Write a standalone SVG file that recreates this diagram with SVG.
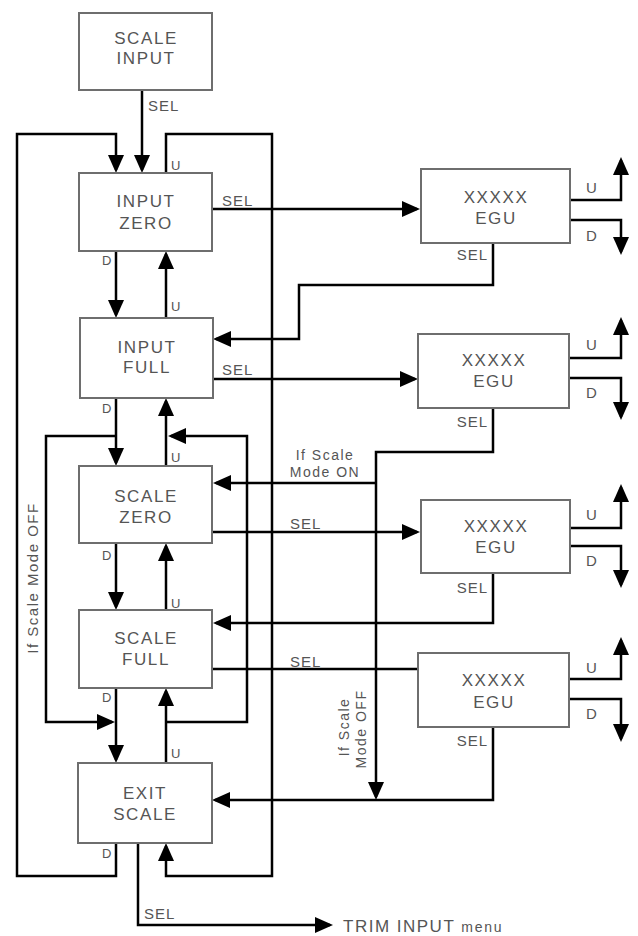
<svg xmlns="http://www.w3.org/2000/svg" width="638" height="936" viewBox="0 0 638 936">
<style>
.box{fill:#fff;stroke:#6e6e6e;stroke-width:2}
.bt{font-family:"Liberation Sans",Arial,sans-serif;font-size:17px;fill:#555;text-anchor:middle;letter-spacing:1.6px}
.sel{font-family:"Liberation Sans",Arial,sans-serif;font-size:15px;fill:#555;letter-spacing:1px}
.ud{font-family:"Liberation Sans",Arial,sans-serif;font-size:13px;fill:#555}
.eud{font-family:"Liberation Sans",Arial,sans-serif;font-size:15px;fill:#555}
.note{font-family:"Liberation Sans",Arial,sans-serif;font-size:14px;fill:#555;letter-spacing:1.5px;text-anchor:middle}
.ln{fill:none;stroke:#000;stroke-width:2.5}
.ar{fill:none;stroke:#000;stroke-width:2.5;marker-end:url(#ah)}
</style>
<defs>
<marker id="ah" markerUnits="userSpaceOnUse" markerWidth="18" markerHeight="16" refX="15" refY="8" orient="auto">
<path d="M0,0 L18,8 L0,16 Z" fill="#000"/>
</marker>
</defs>
<rect width="638" height="936" fill="#fff"/>

<g id="connectors">
<!-- SCALE INPUT -> INPUT ZERO -->
<path class="ar" d="M142,90 V170"/>
<!-- outer left loop: EXIT D -> INPUT ZERO -->
<path class="ar" d="M116,843 V876 H17 V134 H116 V170"/>
<!-- outer right loop: INPUT ZERO U -> EXIT SCALE -->
<path class="ar" d="M166,173 V134 H272 V876 H166 V846"/>
<!-- INPUT ZERO <-> INPUT FULL -->
<path class="ar" d="M116,251 V315"/>
<path class="ar" d="M166,318 V254"/>
<!-- INPUT ZERO SEL -> EGU1 -->
<path class="ar" d="M212,209 H417"/>
<!-- EGU1 U/D -->
<path class="ar" d="M570,200 H621 V160"/>
<path class="ar" d="M570,220 H621 V252"/>
<!-- EGU1 SEL -> INPUT FULL -->
<path class="ar" d="M493,243 V285 H299 V339 H216"/>
<!-- INPUT FULL SEL -> EGU2 -->
<path class="ar" d="M213,379 H415"/>
<!-- EGU2 U/D -->
<path class="ar" d="M569,358 H621 V320"/>
<path class="ar" d="M569,378 H621 V417"/>
<!-- EGU2 SEL -> scale mode branch -->
<path class="ar" d="M493,408 V452 H376 V797"/>
<path class="ar" d="M376,483 H216"/>
<!-- INPUT FULL <-> SCALE ZERO -->
<path class="ar" d="M116,398 V463"/>
<path class="ar" d="M166,466 V401"/>
<!-- inner left loop (scale mode off) -->
<path class="ar" d="M116,436 H46 V722 H112"/>
<!-- inner right loop -->
<path class="ar" d="M166,722 H247 V436 H171"/>
<!-- SCALE ZERO SEL -> EGU3 -->
<path class="ar" d="M212,532 H417"/>
<!-- EGU3 U/D -->
<path class="ar" d="M570,528 H621 V487"/>
<path class="ar" d="M570,546 H621 V585"/>
<!-- EGU3 SEL -> SCALE FULL -->
<path class="ar" d="M493,573 V623 H216"/>
<!-- SCALE ZERO <-> SCALE FULL -->
<path class="ar" d="M116,543 V607"/>
<path class="ar" d="M166,610 V546"/>
<!-- SCALE FULL SEL -> EGU4 -->
<path class="ln" d="M212,669 H418"/>
<!-- EGU4 U/D -->
<path class="ar" d="M569,679 H621 V640"/>
<path class="ar" d="M569,699 H621 V739"/>
<!-- EGU4 SEL -> EXIT SCALE -->
<path class="ar" d="M493,727 V800 H215"/>
<!-- SCALE FULL <-> EXIT SCALE -->
<path class="ar" d="M116,688 V760"/>
<path class="ar" d="M166,763 V691"/>
<!-- EXIT SCALE SEL -> TRIM INPUT -->
<path class="ar" d="M138,843 V925 H330"/>

<!-- connector labels -->
<text class="sel" x="148" y="111">SEL</text>
<text class="ud" x="171" y="170">U</text>
<text class="ud" x="102" y="265">D</text>
<text class="ud" x="171" y="311">U</text>
<text class="sel" x="222" y="206">SEL</text>
<text class="sel" x="222" y="375">SEL</text>
<text class="ud" x="102" y="413">D</text>
<text class="ud" x="171" y="462">U</text>
<text class="sel" x="290" y="529">SEL</text>
<text class="ud" x="102" y="560">D</text>
<text class="ud" x="171" y="608">U</text>
<text class="sel" x="290" y="667">SEL</text>
<text class="ud" x="102" y="702">D</text>
<text class="ud" x="171" y="758">U</text>
<text class="ud" x="102" y="858">D</text>
<text class="sel" x="144" y="919">SEL</text>

<text class="eud" x="586" y="193">U</text>
<text class="eud" x="586" y="241">D</text>
<text class="sel" x="488" y="260" text-anchor="end">SEL</text>
<text class="eud" x="586" y="350">U</text>
<text class="eud" x="586" y="398">D</text>
<text class="sel" x="488" y="427" text-anchor="end">SEL</text>
<text class="eud" x="586" y="520">U</text>
<text class="eud" x="586" y="566">D</text>
<text class="sel" x="488" y="593" text-anchor="end">SEL</text>
<text class="eud" x="586" y="673">U</text>
<text class="eud" x="586" y="719">D</text>
<text class="sel" x="488" y="746" text-anchor="end">SEL</text>

<text class="note" x="325" y="460">If Scale</text>
<text class="note" x="325" y="477">Mode ON</text>
<text class="note" transform="translate(38,578) rotate(-90)" style="font-size:15px">If Scale Mode OFF</text>
<text class="note" transform="translate(349,727) rotate(-90)">If Scale</text>
<text class="note" transform="translate(366,729) rotate(-90)">Mode OFF</text>

<text x="343" y="932" font-family="Liberation Sans, Arial, sans-serif" font-size="17" fill="#555" letter-spacing="1.5">TRIM INPUT <tspan font-size="14" letter-spacing="1.8">menu</tspan></text>
</g>

<g id="scale-input">
<rect class="box" x="79" y="13" width="133" height="77"/>
<text class="bt" x="146" y="44">SCALE</text>
<text class="bt" x="146" y="64">INPUT</text>
</g>
<g id="input-zero">
<rect class="box" x="79" y="173" width="133" height="78"/>
<text class="bt" x="146" y="207">INPUT</text>
<text class="bt" x="146" y="229">ZERO</text>
</g>
<g id="input-full">
<rect class="box" x="80" y="318" width="133" height="80"/>
<text class="bt" x="147" y="353">INPUT</text>
<text class="bt" x="147" y="373">FULL</text>
</g>
<g id="scale-zero">
<rect class="box" x="79" y="466" width="133" height="77"/>
<text class="bt" x="146" y="502">SCALE</text>
<text class="bt" x="146" y="523">ZERO</text>
</g>
<g id="scale-full">
<rect class="box" x="79" y="610" width="133" height="78"/>
<text class="bt" x="146" y="644">SCALE</text>
<text class="bt" x="146" y="665">FULL</text>
</g>
<g id="exit-scale">
<rect class="box" x="78" y="763" width="134" height="80"/>
<text class="bt" x="145" y="799">EXIT</text>
<text class="bt" x="145" y="820">SCALE</text>
</g>
<g id="egu-1">
<rect class="box" x="421" y="169" width="149" height="74"/>
<text class="bt" x="496" y="203">XXXXX</text>
<text class="bt" x="496" y="224">EGU</text>
</g>
<g id="egu-2">
<rect class="box" x="418" y="334" width="151" height="74"/>
<text class="bt" x="494" y="366">XXXXX</text>
<text class="bt" x="494" y="387">EGU</text>
</g>
<g id="egu-3">
<rect class="box" x="421" y="500" width="149" height="73"/>
<text class="bt" x="496" y="532">XXXXX</text>
<text class="bt" x="496" y="553">EGU</text>
</g>
<g id="egu-4">
<rect class="box" x="418" y="653" width="151" height="74"/>
<text class="bt" x="494" y="686">XXXXX</text>
<text class="bt" x="494" y="708">EGU</text>
</g>
</svg>
